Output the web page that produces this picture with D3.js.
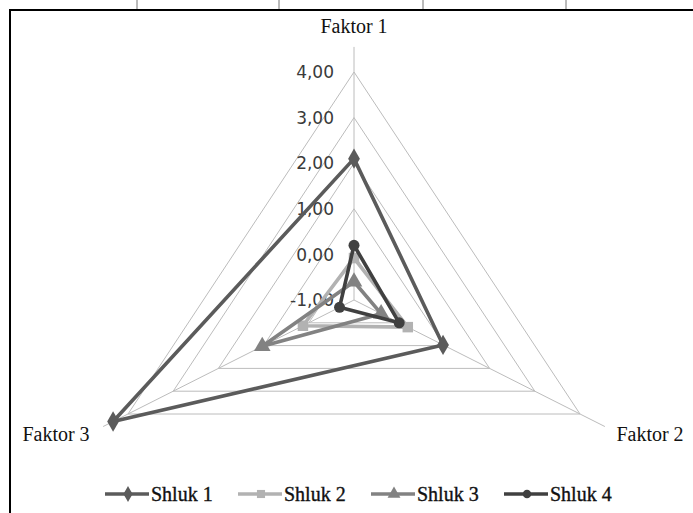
<!DOCTYPE html>
<html lang="cs">
<head>
  <meta charset="UTF-8" />
  <title>Radar - Shluky</title>
  <style>
    body { margin: 0; background: #fff; }
    svg { display: block; }
    .grid { fill: none; stroke: #bcbcbc; stroke-width: 1px; }
    .tick-label { font-family: "DejaVu Sans", sans-serif; font-size: 17px; fill: #3a3a3a; }
    .axis-label { font-family: "Liberation Serif", serif; font-size: 20px; fill: #111; }
    .legend-label { font-family: "Liberation Serif", serif; font-size: 20px; fill: #111; stroke: #111; stroke-width: 0.35px; }
  </style>
</head>
<body>
  <svg width="693" height="513"></svg>

  <script src="https://d3js.org/d3.v7.min.js"></script>
  <script>
    // data
    const factors = ["Faktor 1", "Faktor 2", "Faktor 3"];
    const ticks = [-1, 0, 1, 2, 3, 4];
    const tickLabels = ["-1,00", "0,00", "1,00", "2,00", "3,00", "4,00"];
    const clusters = ["Shluk 1", "Shluk 2", "Shluk 3", "Shluk 4"];
    const shluk1 = [2.1, 0.97, 4.33];
    const shluk2 = [-0.08, 0.19, 0.13];
    const shluk3 = [-0.6, -0.4, 1.03];
    const shluk4 = [0.2, 0.0, -0.68];
    const series = [shluk1, shluk2, shluk3, shluk4];

    const colors = ["#5b5b5b", "#b2b2b2", "#828282", "#404040"];
    const symbols = [d3.symbolDiamond, d3.symbolSquare, d3.symbolTriangle, d3.symbolCircle];
    const symSizes = [120, 110, 120, 95];

    const svg = d3.select("svg");
    const cx = 354, cy = 300;
    const R = 228;
    const kx = 226 / (R * Math.sin(Math.PI / 3)); // picture is a bit wider than tall

    const r = d3.scaleLinear().domain([-1, 4]).range([0, R]);
    const angle = d3.scaleOrdinal().domain(d3.range(factors.length))
      .range(d3.range(factors.length).map(i => i * 2 * Math.PI / factors.length));

    const pt = (i, v) => {
      const a = angle(i), rr = r(v);
      return [cx + rr * Math.sin(a) * kx, cy - rr * Math.cos(a)];
    };

    // frame
    svg.append("line").attr("x1", 9).attr("x2", 693).attr("y1", 10).attr("y2", 10)
      .attr("stroke", "#000").attr("stroke-width", 2);
    svg.append("line").attr("x1", 10).attr("x2", 10).attr("y1", 9).attr("y2", 513)
      .attr("stroke", "#000").attr("stroke-width", 2);
    [137, 279, 423, 566].forEach(x => {
      svg.append("line").attr("x1", x).attr("x2", x).attr("y1", 0).attr("y2", 9)
        .attr("stroke", "#777").attr("stroke-width", 1);
    });

    // grid rings
    const line = d3.line();
    ticks.slice(1).forEach(t => {
      svg.append("path").attr("class", "grid")
        .attr("d", line(d3.range(factors.length).map(i => pt(i, t))) + "Z");
    });

    // spokes
    factors.forEach((f, i) => {
      const [x2, y2] = pt(i, 4.55);
      svg.append("line").attr("class", "grid")
        .attr("x1", cx).attr("y1", cy).attr("x2", x2).attr("y2", y2);
    });

    // tick labels
    ticks.forEach((t, k) => {
      const [x, y] = pt(0, t);
      svg.append("text").attr("class", "tick-label")
        .attr("x", x - 20).attr("y", y).attr("dy", "0.36em")
        .attr("text-anchor", "end").text(tickLabels[k]);
    });

    // axis labels
    const labelPos = [[354, 33, "middle"], [650, 441, "middle"], [56, 441, "middle"]];
    factors.forEach((f, i) => {
      svg.append("text").attr("class", "axis-label")
        .attr("x", labelPos[i][0]).attr("y", labelPos[i][1])
        .attr("text-anchor", labelPos[i][2]).text(f);
    });

    // series
    series.forEach((vals, s) => {
      const pts = vals.map((v, i) => pt(i, v));
      svg.append("path")
        .attr("d", line(pts) + "Z")
        .attr("fill", "none")
        .attr("stroke", colors[s])
        .attr("stroke-width", 3.6)
        .attr("stroke-linejoin", "round");
      svg.selectAll(null).data(pts).join("path")
        .attr("transform", d => `translate(${d[0]},${d[1]})`)
        .attr("d", d3.symbol().type(symbols[s]).size(symSizes[s]))
        .attr("fill", colors[s]);
    });

    // legend
    const legend = svg.append("g").attr("transform", "translate(105,494)");
    clusters.forEach((c, s) => {
      const g = legend.append("g").attr("transform", `translate(${s * 133},0)`);
      g.append("line").attr("x1", 0).attr("x2", 44).attr("y1", 0).attr("y2", 0)
        .attr("stroke", colors[s]).attr("stroke-width", 3.5);
      g.append("path").attr("transform", "translate(23,0)")
        .attr("d", d3.symbol().type(symbols[s]).size(symSizes[s] * 0.6))
        .attr("fill", colors[s]);
      g.append("text").attr("class", "legend-label")
        .attr("x", 46).attr("y", 0).attr("dy", "0.33em").text(c);
    });
  </script>
</body>
</html>
